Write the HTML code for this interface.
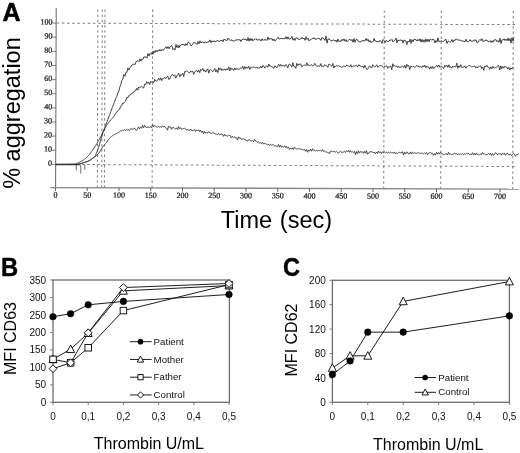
<!DOCTYPE html>
<html><head><meta charset="utf-8"><style>
html,body{margin:0;padding:0;background:#fff;width:520px;height:453px;overflow:hidden}
svg{display:block;will-change:transform}
text{font-family:"Liberation Sans",sans-serif;fill:#000}
.ser{font-family:"Liberation Serif",serif;font-size:8px;fill:#111;stroke:#111;stroke-width:0.22px}
.big{font-weight:bold;font-size:25px;stroke:#000;stroke-width:0.45px}
.lab{font-size:23.5px}
.lab2{font-size:16px}
.tick{font-size:10px;fill:#111}
.leg{font-size:9.7px;fill:#111}
</style></head><body>
<svg width="520" height="453" viewBox="0 0 520 453">
<rect width="520" height="453" fill="#fff"/>
<g transform="rotate(0.19 56 100)">
<line x1="56.5" y1="23.10" x2="517" y2="23.10" stroke="#7c7c7c" stroke-width="1" stroke-dasharray="2.4 2.78"/><line x1="56.5" y1="164.40" x2="517" y2="165.00" stroke="#7c7c7c" stroke-width="1" stroke-dasharray="2.4 2.78"/><line x1="97.6" y1="9.3" x2="97.6" y2="188.6" stroke="#7c7c7c" stroke-width="1" stroke-dasharray="2.4 2.78"/><line x1="102.0" y1="9.3" x2="102.0" y2="188.6" stroke="#7c7c7c" stroke-width="1" stroke-dasharray="2.4 2.78"/><line x1="104.7" y1="9.3" x2="104.7" y2="188.6" stroke="#7c7c7c" stroke-width="1" stroke-dasharray="2.4 2.78"/><line x1="152.4" y1="9.3" x2="152.4" y2="188.6" stroke="#7c7c7c" stroke-width="1" stroke-dasharray="2.4 2.78"/><line x1="384.0" y1="9.3" x2="384.0" y2="188.6" stroke="#7c7c7c" stroke-width="1" stroke-dasharray="2.4 2.78"/><line x1="441.0" y1="9.3" x2="441.0" y2="188.6" stroke="#7c7c7c" stroke-width="1" stroke-dasharray="2.4 2.78"/><line x1="513.0" y1="9.3" x2="513.0" y2="188.6" stroke="#7c7c7c" stroke-width="1" stroke-dasharray="2.4 2.78"/><line x1="55.9" y1="8" x2="55.9" y2="188" stroke="#666" stroke-width="1"/><line x1="50.5" y1="187.6" x2="519" y2="187.6" stroke="#888" stroke-width="1.3"/><line x1="51.5" y1="164.40" x2="56" y2="164.40" stroke="#666" stroke-width="0.8"/><line x1="51.5" y1="150.27" x2="56" y2="150.27" stroke="#666" stroke-width="0.8"/><line x1="51.5" y1="136.14" x2="56" y2="136.14" stroke="#666" stroke-width="0.8"/><line x1="51.5" y1="122.01" x2="56" y2="122.01" stroke="#666" stroke-width="0.8"/><line x1="51.5" y1="107.88" x2="56" y2="107.88" stroke="#666" stroke-width="0.8"/><line x1="51.5" y1="93.75" x2="56" y2="93.75" stroke="#666" stroke-width="0.8"/><line x1="51.5" y1="79.62" x2="56" y2="79.62" stroke="#666" stroke-width="0.8"/><line x1="51.5" y1="65.49" x2="56" y2="65.49" stroke="#666" stroke-width="0.8"/><line x1="51.5" y1="51.36" x2="56" y2="51.36" stroke="#666" stroke-width="0.8"/><line x1="51.5" y1="37.23" x2="56" y2="37.23" stroke="#666" stroke-width="0.8"/><line x1="51.5" y1="23.10" x2="56" y2="23.10" stroke="#666" stroke-width="0.8"/><line x1="55.80" y1="187.6" x2="55.80" y2="191" stroke="#555" stroke-width="0.9"/><line x1="87.55" y1="187.6" x2="87.55" y2="191" stroke="#555" stroke-width="0.9"/><line x1="119.30" y1="187.6" x2="119.30" y2="191" stroke="#555" stroke-width="0.9"/><line x1="151.05" y1="187.6" x2="151.05" y2="191" stroke="#555" stroke-width="0.9"/><line x1="182.80" y1="187.6" x2="182.80" y2="191" stroke="#555" stroke-width="0.9"/><line x1="214.55" y1="187.6" x2="214.55" y2="191" stroke="#555" stroke-width="0.9"/><line x1="246.30" y1="187.6" x2="246.30" y2="191" stroke="#555" stroke-width="0.9"/><line x1="278.05" y1="187.6" x2="278.05" y2="191" stroke="#555" stroke-width="0.9"/><line x1="309.80" y1="187.6" x2="309.80" y2="191" stroke="#555" stroke-width="0.9"/><line x1="341.55" y1="187.6" x2="341.55" y2="191" stroke="#555" stroke-width="0.9"/><line x1="373.30" y1="187.6" x2="373.30" y2="191" stroke="#555" stroke-width="0.9"/><line x1="405.05" y1="187.6" x2="405.05" y2="191" stroke="#555" stroke-width="0.9"/><line x1="436.80" y1="187.6" x2="436.80" y2="191" stroke="#555" stroke-width="0.9"/><line x1="468.55" y1="187.6" x2="468.55" y2="191" stroke="#555" stroke-width="0.9"/><line x1="500.30" y1="187.6" x2="500.30" y2="191" stroke="#555" stroke-width="0.9"/>
<path d="M76.5 164.6 V170.2 M80.9 164.6 V173.4 M85 164.6 V169.6" stroke="#8a8a8a" stroke-width="1.25" fill="none"/><path d="M56 164.5 L80 164.3" stroke="#333" stroke-width="1.5" fill="none"/>
<polyline points="78.66,164.04 79.66,163.92 80.66,163.66 81.66,163.32 82.66,162.96 83.66,162.64 84.66,162.34 85.66,162.04 86.66,161.71 87.66,161.35 88.66,160.94 89.66,160.45 90.66,159.81 91.66,159.09 92.66,158.35 93.66,157.66 94.66,156.97 95.66,156.22 96.66,155.42 97.66,154.52 98.66,153.42 99.66,151.97 100.66,150.32 101.66,148.69 102.66,147.24 103.66,145.91 104.66,144.63 105.66,143.34 106.66,142.02 107.66,140.60 108.66,139.23 109.66,138.08 110.66,137.12 111.66,136.28 112.66,135.54 113.66,134.90 114.66,134.33 115.66,133.82 116.66,133.32 117.66,132.81 118.66,132.20 119.66,131.58 120.66,130.73 121.66,130.59 122.66,129.99 123.66,130.17 124.66,129.33 125.66,130.39 126.66,128.99 127.66,129.65 128.66,129.51 129.66,130.40 130.66,128.54 131.66,128.80 132.66,128.87 133.66,128.66 134.66,127.84 135.66,129.60 136.66,130.15 137.66,128.76 138.66,126.62 139.66,128.47 140.66,127.01 141.66,127.90 142.66,125.13 143.66,127.51 144.66,125.06 145.66,126.82 146.66,127.09 147.66,126.91 148.66,126.86 149.66,127.23 150.66,126.37 151.66,127.36 152.66,124.38 153.66,126.51 154.66,125.19 155.66,125.72 156.66,126.74 157.66,126.53 158.66,126.15 159.66,126.85 160.66,126.37 161.66,127.03 162.66,125.47 163.66,126.68 164.66,126.17 165.66,127.32 166.66,127.90 167.66,129.80 168.66,125.97 169.66,126.65 170.66,126.63 171.66,128.85 172.66,127.26 173.66,127.24 174.66,127.89 175.66,128.73 176.66,127.39 177.66,128.93 178.66,126.23 179.66,128.28 180.66,127.35 181.66,129.22 182.66,128.15 183.66,128.22 184.66,127.85 185.66,128.48 186.66,129.57 187.66,129.34 188.66,129.70 189.66,129.95 190.66,128.51 191.66,130.08 192.66,130.17 193.66,130.15 194.66,128.91 195.66,130.91 196.66,129.49 197.66,130.50 198.66,129.24 199.66,131.28 200.66,129.70 201.66,131.95 202.66,130.46 203.66,132.99 204.66,131.10 205.66,132.64 206.66,132.06 207.66,132.54 208.66,131.20 209.66,132.04 210.66,132.48 211.66,133.06 212.66,131.90 213.66,132.23 214.66,133.40 215.66,133.50 216.66,133.64 217.66,134.22 218.66,132.80 219.66,134.21 220.66,133.83 221.66,133.71 222.66,133.76 223.66,135.80 224.66,133.66 225.66,135.39 226.66,134.98 227.66,135.63 228.66,134.75 229.66,134.96 230.66,135.35 231.66,137.41 232.66,135.86 233.66,136.84 234.66,136.06 235.66,137.45 236.66,137.16 237.66,139.40 238.66,136.20 239.66,137.60 240.66,137.25 241.66,139.15 242.66,138.40 243.66,138.09 244.66,138.36 245.66,139.67 246.66,139.34 247.66,140.58 248.66,139.14 249.66,139.23 250.66,139.92 251.66,140.13 252.66,140.06 253.66,141.12 254.66,138.68 255.66,140.46 256.66,140.66 257.66,141.77 258.66,141.26 259.66,142.23 260.66,142.22 261.66,143.04 262.66,141.51 263.66,143.23 264.66,142.96 265.66,142.77 266.66,143.30 267.66,144.31 268.66,143.53 269.66,144.95 270.66,143.65 271.66,144.54 272.66,143.99 273.66,144.30 274.66,145.24 275.66,144.96 276.66,145.70 277.66,145.81 278.66,143.71 279.66,146.42 280.66,144.35 281.66,146.48 282.66,145.83 283.66,146.02 284.66,145.27 285.66,147.04 286.66,145.43 287.66,147.38 288.66,146.53 289.66,148.68 290.66,147.24 291.66,148.50 292.66,147.06 293.66,148.78 294.66,146.24 295.66,147.52 296.66,148.06 297.66,148.19 298.66,148.02 299.66,147.66 300.66,148.33 301.66,148.42 302.66,148.53 303.66,149.08 304.66,148.48 305.66,150.36 306.66,148.69 307.66,151.46 308.66,149.08 309.66,150.26 310.66,148.49 311.66,150.34 312.66,147.84 313.66,149.45 314.66,149.58 315.66,150.40 316.66,149.36 317.66,149.89 318.66,149.72 319.66,149.81 320.66,149.61 321.66,150.32 322.66,148.69 323.66,150.67 324.66,150.11 325.66,151.07 326.66,150.96 327.66,151.48 328.66,151.79 329.66,152.98 330.66,150.24 331.66,150.31 332.66,150.81 333.66,150.57 334.66,150.73 335.66,151.11 336.66,150.27 337.66,151.17 338.66,152.37 339.66,151.25 340.66,150.20 341.66,151.16 342.66,151.57 343.66,151.02 344.66,150.49 345.66,151.59 346.66,150.09 347.66,150.72 348.66,149.07 349.66,151.30 350.66,149.73 351.66,151.26 352.66,150.81 353.66,151.31 354.66,150.41 355.66,153.60 356.66,150.56 357.66,152.80 358.66,149.73 359.66,152.11 360.66,150.58 361.66,151.01 362.66,150.82 363.66,152.21 364.66,150.17 365.66,152.16 366.66,149.67 367.66,153.21 368.66,151.92 369.66,151.71 370.66,150.05 371.66,151.04 372.66,151.07 373.66,151.48 374.66,151.23 375.66,152.77 376.66,150.97 377.66,152.40 378.66,149.94 379.66,151.65 380.66,150.82 381.66,152.48 382.66,150.76 383.66,151.68 384.66,150.93 385.66,151.86 386.66,151.11 387.66,151.86 388.66,151.26 389.66,151.65 390.66,151.00 391.66,151.75 392.66,151.48 393.66,152.17 394.66,150.79 395.66,152.81 396.66,151.84 397.66,152.34 398.66,151.17 399.66,151.19 400.66,151.63 401.66,151.52 402.66,150.50 403.66,153.76 404.66,151.14 405.66,152.98 406.66,150.73 407.66,151.12 408.66,152.90 409.66,152.39 410.66,150.74 411.66,152.97 412.66,151.03 413.66,151.96 414.66,151.90 415.66,151.86 416.66,152.04 417.66,151.93 418.66,151.48 419.66,152.00 420.66,152.16 421.66,152.08 422.66,151.79 423.66,152.61 424.66,151.69 425.66,152.61 426.66,151.31 427.66,153.44 428.66,152.00 429.66,151.48 430.66,151.05 431.66,152.48 432.66,152.11 433.66,154.13 434.66,152.42 435.66,153.85 436.66,151.12 437.66,152.86 438.66,151.21 439.66,152.90 440.66,150.96 441.66,152.52 442.66,152.41 443.66,153.65 444.66,153.08 445.66,152.69 446.66,152.29 447.66,153.67 448.66,151.06 449.66,153.21 450.66,152.37 451.66,153.27 452.66,153.01 453.66,152.91 454.66,151.81 455.66,152.44 456.66,152.22 457.66,153.43 458.66,152.42 459.66,153.21 460.66,152.78 461.66,152.93 462.66,152.54 463.66,153.36 464.66,152.58 465.66,152.93 466.66,151.82 467.66,152.46 468.66,152.02 469.66,152.94 470.66,153.31 471.66,153.14 472.66,151.31 473.66,153.42 474.66,151.84 475.66,153.68 476.66,151.56 477.66,153.03 478.66,153.34 479.66,153.39 480.66,152.63 481.66,153.03 482.66,151.03 483.66,152.64 484.66,152.38 485.66,153.38 486.66,152.93 487.66,152.97 488.66,151.92 489.66,153.09 490.66,151.85 491.66,154.11 492.66,152.12 493.66,153.79 494.66,153.03 495.66,151.20 496.66,151.91 497.66,153.38 498.66,152.21 499.66,152.54 500.66,152.14 501.66,153.68 502.66,151.63 503.66,152.40 504.66,151.66 505.66,153.85 506.66,152.12 507.66,151.72 508.66,153.10 509.66,153.27 510.66,152.55 511.66,154.09 512.66,152.81 513.66,151.89 514.66,152.62 515.66,154.73 516.66,153.02 517.66,153.04 518.66,152.42" fill="none" stroke="#3a3a3a" stroke-width="0.95"/>
<polyline points="78.66,164.04 79.66,163.92 80.66,163.66 81.66,163.32 82.66,162.96 83.66,162.64 84.66,162.35 85.66,162.04 86.66,161.72 87.66,161.36 88.66,160.95 89.66,160.45 90.66,159.79 91.66,159.04 92.66,158.25 93.66,157.48 94.66,156.64 95.66,155.21 96.66,153.02 97.66,150.50 98.66,147.51 99.66,144.17 100.66,140.49 101.66,136.93 102.66,133.61 103.66,130.91 104.66,128.84 105.66,127.06 106.66,125.38 107.66,123.81 108.66,122.34 109.66,121.00 110.66,119.83 111.66,118.84 112.66,117.86 113.66,116.75 114.66,115.22 115.66,113.71 116.66,111.69 117.66,111.22 118.66,109.56 119.66,109.15 120.66,106.13 121.66,105.65 122.66,102.86 123.66,103.18 124.66,101.86 125.66,100.88 126.66,97.28 127.66,97.82 128.66,95.48 129.66,95.43 130.66,93.68 131.66,93.77 132.66,92.17 133.66,92.16 134.66,90.40 135.66,90.42 136.66,87.97 137.66,89.92 138.66,86.74 139.66,87.87 140.66,86.49 141.66,86.34 142.66,87.11 143.66,87.78 144.66,83.69 145.66,84.26 146.66,81.28 147.66,83.10 148.66,81.74 149.66,84.22 150.66,80.83 151.66,81.90 152.66,81.14 153.66,82.69 154.66,79.09 155.66,80.69 156.66,80.92 157.66,79.41 158.66,77.79 159.66,79.89 160.66,77.55 161.66,80.20 162.66,77.91 163.66,78.39 164.66,76.97 165.66,78.24 166.66,76.52 167.66,75.80 168.66,79.11 169.66,78.61 170.66,75.91 171.66,74.40 172.66,74.25 173.66,75.46 174.66,74.49 175.66,77.73 176.66,75.62 177.66,74.24 178.66,72.69 179.66,76.53 180.66,74.23 181.66,74.63 182.66,72.75 183.66,76.18 184.66,70.95 185.66,71.41 186.66,70.15 187.66,71.26 188.66,72.16 189.66,72.17 190.66,70.55 191.66,71.36 192.66,70.72 193.66,73.90 194.66,71.25 195.66,70.84 196.66,69.78 197.66,71.69 198.66,69.64 199.66,72.21 200.66,68.89 201.66,69.85 202.66,67.94 203.66,70.92 204.66,69.39 205.66,71.63 206.66,69.71 207.66,68.27 208.66,72.67 209.66,69.46 210.66,69.07 211.66,70.09 212.66,71.26 213.66,69.80 214.66,67.85 215.66,71.44 216.66,69.23 217.66,72.12 218.66,67.28 219.66,69.32 220.66,67.67 221.66,70.17 222.66,68.65 223.66,69.58 224.66,68.30 225.66,69.74 226.66,68.10 227.66,69.38 228.66,66.31 229.66,70.34 230.66,67.20 231.66,69.00 232.66,68.28 233.66,69.95 234.66,67.34 235.66,69.35 236.66,67.76 237.66,68.46 238.66,68.53 239.66,68.34 240.66,66.97 241.66,67.66 242.66,65.66 243.66,68.81 244.66,65.85 245.66,68.03 246.66,66.32 247.66,67.69 248.66,65.76 249.66,68.97 250.66,66.56 251.66,67.34 252.66,66.16 253.66,66.49 254.66,67.02 255.66,67.18 256.66,66.75 257.66,67.22 258.66,67.49 259.66,67.32 260.66,65.39 261.66,67.31 262.66,64.74 263.66,65.41 264.66,67.42 265.66,65.77 266.66,65.07 267.66,66.53 268.66,63.25 269.66,65.55 270.66,65.21 271.66,66.29 272.66,66.24 273.66,67.62 274.66,65.20 275.66,65.69 276.66,67.05 277.66,65.01 278.66,63.52 279.66,65.68 280.66,63.64 281.66,65.53 282.66,64.68 283.66,64.44 284.66,65.82 285.66,63.78 286.66,64.62 287.66,67.14 288.66,63.71 289.66,63.30 290.66,64.43 291.66,66.37 292.66,61.94 293.66,65.64 294.66,65.66 295.66,67.54 296.66,62.49 297.66,64.84 298.66,63.26 299.66,63.69 300.66,62.98 301.66,65.92 302.66,65.21 303.66,64.70 304.66,64.20 305.66,65.10 306.66,61.94 307.66,64.67 308.66,64.01 309.66,64.99 310.66,63.88 311.66,64.18 312.66,65.33 313.66,64.50 314.66,62.45 315.66,64.55 316.66,65.16 317.66,65.34 318.66,65.03 319.66,65.41 320.66,62.77 321.66,65.91 322.66,65.14 323.66,65.61 324.66,63.62 325.66,64.71 326.66,64.80 327.66,66.48 328.66,63.19 329.66,63.73 330.66,64.47 331.66,65.43 332.66,62.51 333.66,67.15 334.66,65.09 335.66,65.73 336.66,64.36 337.66,65.53 338.66,64.52 339.66,65.50 340.66,65.54 341.66,66.71 342.66,65.95 343.66,64.79 344.66,65.42 345.66,65.62 346.66,63.96 347.66,64.91 348.66,65.05 349.66,65.96 350.66,63.71 351.66,66.21 352.66,65.38 353.66,64.88 354.66,65.08 355.66,64.74 356.66,64.38 357.66,65.95 358.66,63.63 359.66,64.84 360.66,65.03 361.66,66.14 362.66,65.01 363.66,67.23 364.66,64.25 365.66,66.38 366.66,68.25 367.66,68.22 368.66,66.19 369.66,64.80 370.66,66.58 371.66,66.87 372.66,63.71 373.66,65.06 374.66,66.14 375.66,65.15 376.66,63.72 377.66,66.36 378.66,65.22 379.66,64.44 380.66,64.65 381.66,64.65 382.66,65.32 383.66,66.32 384.66,64.83 385.66,65.14 386.66,64.70 387.66,67.32 388.66,65.55 389.66,65.79 390.66,65.08 391.66,68.65 392.66,62.61 393.66,65.14 394.66,64.41 395.66,65.55 396.66,64.95 397.66,66.44 398.66,65.03 399.66,66.63 400.66,65.80 401.66,65.65 402.66,64.87 403.66,66.52 404.66,63.96 405.66,67.07 406.66,63.13 407.66,65.08 408.66,64.22 409.66,68.47 410.66,65.05 411.66,65.55 412.66,65.59 413.66,65.17 414.66,66.41 415.66,65.32 416.66,63.94 417.66,65.36 418.66,65.06 419.66,65.78 420.66,65.32 421.66,66.54 422.66,64.39 423.66,65.76 424.66,63.86 425.66,66.64 426.66,64.73 427.66,65.84 428.66,65.66 429.66,67.84 430.66,65.34 431.66,67.34 432.66,65.20 433.66,67.40 434.66,66.04 435.66,65.36 436.66,64.04 437.66,65.85 438.66,63.74 439.66,65.91 440.66,65.33 441.66,65.15 442.66,66.29 443.66,67.15 444.66,64.03 445.66,65.37 446.66,63.89 447.66,66.20 448.66,63.48 449.66,66.41 450.66,65.41 451.66,66.82 452.66,64.63 453.66,65.76 454.66,64.84 455.66,65.89 456.66,61.84 457.66,67.02 458.66,64.46 459.66,65.90 460.66,63.40 461.66,66.28 462.66,66.01 463.66,65.80 464.66,64.47 465.66,67.02 466.66,65.23 467.66,64.96 468.66,64.18 469.66,64.34 470.66,64.72 471.66,65.71 472.66,65.14 473.66,65.16 474.66,64.51 475.66,66.76 476.66,65.32 477.66,66.39 478.66,65.15 479.66,64.79 480.66,64.46 481.66,67.11 482.66,65.71 483.66,68.92 484.66,64.57 485.66,65.54 486.66,63.75 487.66,65.57 488.66,65.79 489.66,67.87 490.66,65.38 491.66,67.34 492.66,64.86 493.66,66.58 494.66,66.52 495.66,66.08 496.66,65.35 497.66,64.43 498.66,64.18 499.66,68.49 500.66,64.36 501.66,67.27 502.66,64.98 503.66,66.70 504.66,64.79 505.66,65.50 506.66,65.51 507.66,67.64 508.66,65.89 509.66,68.51 510.66,66.44 511.66,67.21 512.66,65.66 513.66,66.74" fill="none" stroke="#3a3a3a" stroke-width="0.95"/>
<polyline points="55.80,164.40 56.80,164.40 57.80,164.40 58.80,164.40 59.80,164.39 60.80,164.39 61.80,164.38 62.80,164.37 63.80,164.36 64.80,164.34 65.80,164.33 66.80,164.31 67.80,164.29 68.80,164.26 69.80,164.24 70.80,164.21 71.80,164.18 72.80,164.14 73.80,164.10 74.80,164.06 75.80,163.84 76.80,163.39 77.80,162.94 78.80,162.52 79.80,162.07 80.80,161.60 81.80,161.09 82.80,160.52 83.80,159.88 84.80,159.13 85.80,158.28 86.80,157.34 87.80,156.34 88.80,155.27 89.80,154.10 90.80,152.75 91.80,151.31 92.80,149.87 93.80,148.42 94.80,146.93 95.80,145.38 96.80,143.76 97.80,142.04 98.80,140.30 99.80,138.61 100.80,136.89 101.80,134.91 102.80,132.66 103.80,130.25 104.80,127.67 105.80,124.94 106.80,122.26 107.80,119.58 108.80,116.89 109.80,114.19 110.80,111.48 111.80,108.73 112.80,106.13 113.80,103.25 114.80,100.98 115.80,97.84 116.80,96.31 117.80,92.88 118.80,90.97 119.80,86.83 120.80,84.22 121.80,80.05 122.80,78.79 123.80,74.23 124.80,75.96 125.80,72.07 126.80,72.14 127.80,67.80 128.80,69.81 129.80,67.34 130.80,66.39 131.80,64.53 132.80,64.50 133.80,63.61 134.80,64.50 135.80,61.67 136.80,60.94 137.80,60.27 138.80,61.44 139.80,58.48 140.80,60.90 141.80,58.70 142.80,58.99 143.80,56.49 144.80,57.07 145.80,56.49 146.80,57.82 147.80,53.34 148.80,55.77 149.80,53.15 150.80,54.18 151.80,52.01 152.80,54.13 153.80,50.55 154.80,52.38 155.80,49.92 156.80,51.58 157.80,49.92 158.80,50.74 159.80,49.08 160.80,50.67 161.80,49.08 162.80,49.98 163.80,49.24 164.80,47.68 165.80,46.41 166.80,48.20 167.80,46.21 168.80,48.41 169.80,46.56 170.80,45.73 171.80,45.33 172.80,49.28 173.80,48.13 174.80,49.70 175.80,44.05 176.80,47.15 177.80,44.85 178.80,47.53 179.80,44.85 180.80,45.13 181.80,43.61 182.80,44.65 183.80,43.78 184.80,45.33 185.80,43.25 186.80,44.91 187.80,42.01 188.80,41.76 189.80,43.40 190.80,45.33 191.80,44.81 192.80,42.83 193.80,41.90 194.80,42.59 195.80,42.74 196.80,43.93 197.80,41.09 198.80,43.37 199.80,40.28 200.80,42.56 201.80,41.25 202.80,41.69 203.80,42.81 204.80,41.32 205.80,41.62 206.80,42.33 207.80,41.14 208.80,41.47 209.80,39.37 210.80,42.24 211.80,40.18 212.80,41.47 213.80,40.24 214.80,41.07 215.80,41.00 216.80,40.23 217.80,39.86 218.80,41.29 219.80,39.97 220.80,40.51 221.80,39.45 222.80,41.29 223.80,38.47 224.80,39.61 225.80,39.22 226.80,40.16 227.80,37.40 228.80,39.05 229.80,39.41 230.80,39.95 231.80,39.19 232.80,40.53 233.80,40.61 234.80,39.82 235.80,39.25 236.80,39.45 237.80,38.91 238.80,39.73 239.80,38.83 240.80,41.02 241.80,38.85 242.80,38.59 243.80,38.50 244.80,38.99 245.80,38.28 246.80,40.32 247.80,36.92 248.80,40.51 249.80,37.65 250.80,40.09 251.80,37.88 252.80,40.30 253.80,38.78 254.80,38.91 255.80,37.84 256.80,39.45 257.80,39.17 258.80,39.17 259.80,38.82 260.80,40.40 261.80,38.11 262.80,39.83 263.80,38.80 264.80,39.60 265.80,38.66 266.80,39.83 267.80,36.30 268.80,38.97 269.80,37.45 270.80,38.65 271.80,37.75 272.80,39.99 273.80,38.32 274.80,40.36 275.80,39.07 276.80,37.93 277.80,36.48 278.80,38.32 279.80,37.97 280.80,37.83 281.80,37.75 282.80,38.03 283.80,37.64 284.80,38.11 285.80,35.80 286.80,38.40 287.80,36.01 288.80,38.49 289.80,37.99 290.80,37.69 291.80,35.55 292.80,39.37 293.80,37.66 294.80,39.68 295.80,36.93 296.80,37.43 297.80,37.40 298.80,39.12 299.80,37.98 300.80,38.10 301.80,36.46 302.80,38.18 303.80,37.19 304.80,39.53 305.80,35.80 306.80,38.68 307.80,37.28 308.80,40.13 309.80,38.85 310.80,38.94 311.80,37.65 312.80,37.68 313.80,36.76 314.80,38.45 315.80,37.92 316.80,38.30 317.80,37.29 318.80,37.89 319.80,37.98 320.80,39.57 321.80,36.36 322.80,37.75 323.80,37.84 324.80,39.59 325.80,35.05 326.80,42.32 327.80,37.96 328.80,38.11 329.80,38.52 330.80,39.93 331.80,40.10 332.80,38.81 333.80,39.10 334.80,40.45 335.80,39.15 336.80,41.28 337.80,38.00 338.80,40.83 339.80,39.74 340.80,40.55 341.80,38.25 342.80,39.67 343.80,37.89 344.80,40.36 345.80,38.57 346.80,40.93 347.80,39.57 348.80,38.90 349.80,38.22 350.80,39.70 351.80,38.42 352.80,41.28 353.80,37.57 354.80,41.39 355.80,38.50 356.80,38.30 357.80,40.05 358.80,40.88 359.80,40.78 360.80,40.84 361.80,39.38 362.80,40.01 363.80,39.75 364.80,39.81 365.80,37.37 366.80,39.76 367.80,38.07 368.80,40.80 369.80,39.37 370.80,41.52 371.80,40.92 372.80,40.68 373.80,37.32 374.80,39.98 375.80,39.81 376.80,41.09 377.80,40.42 378.80,40.84 379.80,39.22 380.80,40.44 381.80,42.28 382.80,38.40 383.80,39.47 384.80,41.53 385.80,39.25 386.80,39.90 387.80,40.56 388.80,40.18 389.80,38.60 390.80,39.39 391.80,38.30 392.80,40.89 393.80,39.78 394.80,39.02 395.80,36.94 396.80,41.79 397.80,38.67 398.80,39.78 399.80,38.62 400.80,39.48 401.80,38.86 402.80,42.01 403.80,38.71 404.80,39.87 405.80,39.80 406.80,43.52 407.80,39.90 408.80,40.92 409.80,37.92 410.80,42.30 411.80,38.42 412.80,40.60 413.80,38.09 414.80,38.33 415.80,38.52 416.80,39.89 417.80,38.02 418.80,39.77 419.80,37.55 420.80,40.85 421.80,38.12 422.80,40.96 423.80,38.64 424.80,41.04 425.80,37.63 426.80,40.43 427.80,37.91 428.80,40.53 429.80,37.99 430.80,38.69 431.80,38.63 432.80,37.96 433.80,38.64 434.80,41.70 435.80,39.17 436.80,40.83 437.80,36.49 438.80,40.59 439.80,39.69 440.80,40.19 441.80,39.48 442.80,40.63 443.80,39.27 444.80,38.72 445.80,37.88 446.80,42.30 447.80,39.89 448.80,39.94 449.80,40.95 450.80,40.28 451.80,38.22 452.80,40.94 453.80,38.66 454.80,39.26 455.80,37.41 456.80,38.30 457.80,38.68 458.80,38.89 459.80,38.70 460.80,39.12 461.80,39.85 462.80,39.68 463.80,39.81 464.80,40.68 465.80,37.80 466.80,40.10 467.80,40.26 468.80,39.99 469.80,38.39 470.80,39.91 471.80,39.50 472.80,40.05 473.80,38.47 474.80,39.17 475.80,38.35 476.80,41.43 477.80,41.17 478.80,39.22 479.80,38.04 480.80,39.22 481.80,37.20 482.80,40.20 483.80,39.70 484.80,39.17 485.80,38.76 486.80,38.60 487.80,40.15 488.80,40.27 489.80,39.20 490.80,41.09 491.80,39.25 492.80,40.78 493.80,38.57 494.80,38.49 495.80,38.27 496.80,40.35 497.80,39.12 498.80,40.89 499.80,36.79 500.80,42.03 501.80,38.32 502.80,38.43 503.80,37.24 504.80,39.06 505.80,37.52 506.80,39.26 507.80,36.75 508.80,39.44 509.80,36.90 510.80,41.69 511.80,36.07 512.80,39.81 513.80,36.21" fill="none" stroke="#3a3a3a" stroke-width="0.95"/>
<text x="52.2" y="165.80" text-anchor="end" class="ser">0</text><text x="52.2" y="151.67" text-anchor="end" class="ser">10</text><text x="52.2" y="137.54" text-anchor="end" class="ser">20</text><text x="52.2" y="123.41" text-anchor="end" class="ser">30</text><text x="52.2" y="109.28" text-anchor="end" class="ser">40</text><text x="52.2" y="95.15" text-anchor="end" class="ser">50</text><text x="52.2" y="81.02" text-anchor="end" class="ser">60</text><text x="52.2" y="66.89" text-anchor="end" class="ser">70</text><text x="52.2" y="52.76" text-anchor="end" class="ser">80</text><text x="52.2" y="38.63" text-anchor="end" class="ser">90</text><text x="52.2" y="24.50" text-anchor="end" class="ser">100</text><text x="55.80" y="197.6" text-anchor="middle" class="ser">0</text><text x="87.55" y="197.6" text-anchor="middle" class="ser">50</text><text x="119.30" y="197.6" text-anchor="middle" class="ser">100</text><text x="151.05" y="197.6" text-anchor="middle" class="ser">150</text><text x="182.80" y="197.6" text-anchor="middle" class="ser">200</text><text x="214.55" y="197.6" text-anchor="middle" class="ser">250</text><text x="246.30" y="197.6" text-anchor="middle" class="ser">300</text><text x="278.05" y="197.6" text-anchor="middle" class="ser">350</text><text x="309.80" y="197.6" text-anchor="middle" class="ser">400</text><text x="341.55" y="197.6" text-anchor="middle" class="ser">450</text><text x="373.30" y="197.6" text-anchor="middle" class="ser">500</text><text x="405.05" y="197.6" text-anchor="middle" class="ser">550</text><text x="436.80" y="197.6" text-anchor="middle" class="ser">600</text><text x="468.55" y="197.6" text-anchor="middle" class="ser">650</text><text x="500.30" y="197.6" text-anchor="middle" class="ser">700</text>
</g>
<text x="2.6" y="21" class="big">A</text>
<text transform="translate(1.0,276.2) scale(0.95,1)" class="big">B</text>
<text transform="translate(282.9,276.2) scale(0.94,1)" class="big">C</text>
<text transform="translate(20,188.8) rotate(-90)" class="lab">% aggregation</text>
<text x="276.4" y="227.6" text-anchor="middle" class="lab" word-spacing="1.2">Time (sec)</text>
<rect x="53.00" y="280.00" width="176.40" height="122.30" fill="none" stroke="#6e6e6e" stroke-width="1.3"/><line x1="50.20" y1="402.30" x2="53.00" y2="402.30" stroke="#7a7a7a" stroke-width="1"/><line x1="50.20" y1="384.83" x2="53.00" y2="384.83" stroke="#7a7a7a" stroke-width="1"/><line x1="50.20" y1="367.36" x2="53.00" y2="367.36" stroke="#7a7a7a" stroke-width="1"/><line x1="50.20" y1="349.89" x2="53.00" y2="349.89" stroke="#7a7a7a" stroke-width="1"/><line x1="50.20" y1="332.41" x2="53.00" y2="332.41" stroke="#7a7a7a" stroke-width="1"/><line x1="50.20" y1="314.94" x2="53.00" y2="314.94" stroke="#7a7a7a" stroke-width="1"/><line x1="50.20" y1="297.47" x2="53.00" y2="297.47" stroke="#7a7a7a" stroke-width="1"/><line x1="50.20" y1="280.00" x2="53.00" y2="280.00" stroke="#7a7a7a" stroke-width="1"/><line x1="53.00" y1="402.30" x2="53.00" y2="405.10" stroke="#7a7a7a" stroke-width="1"/><line x1="88.20" y1="402.30" x2="88.20" y2="405.10" stroke="#7a7a7a" stroke-width="1"/><line x1="123.40" y1="402.30" x2="123.40" y2="405.10" stroke="#7a7a7a" stroke-width="1"/><line x1="158.60" y1="402.30" x2="158.60" y2="405.10" stroke="#7a7a7a" stroke-width="1"/><line x1="193.80" y1="402.30" x2="193.80" y2="405.10" stroke="#7a7a7a" stroke-width="1"/><line x1="229.00" y1="402.30" x2="229.00" y2="405.10" stroke="#7a7a7a" stroke-width="1"/><polyline points="53.00,359.32 70.60,362.81 88.20,347.79 123.40,310.58 229.00,284.61" fill="none" stroke="#111" stroke-width="0.95"/><polyline points="53.00,359.32 70.60,349.19 88.20,333.11 123.40,290.83 229.00,285.59" fill="none" stroke="#111" stroke-width="0.95"/><polyline points="53.00,368.68 70.60,362.81 88.20,332.83 123.40,287.55 229.00,283.49" fill="none" stroke="#111" stroke-width="0.95"/><polyline points="53.00,316.69 70.60,313.72 88.20,304.81 123.40,301.42 229.00,294.50" fill="none" stroke="#111" stroke-width="0.95"/><path d="M53.00 355.12 L57.00 362.68 L49.00 362.68 Z" fill="#fff" stroke="#000" stroke-width="0.9" stroke-linejoin="miter"/><path d="M70.60 344.99 L74.60 352.55 L66.60 352.55 Z" fill="#fff" stroke="#000" stroke-width="0.9" stroke-linejoin="miter"/><path d="M88.20 328.91 L92.20 336.47 L84.20 336.47 Z" fill="#fff" stroke="#000" stroke-width="0.9" stroke-linejoin="miter"/><path d="M123.40 286.63 L127.40 294.19 L119.40 294.19 Z" fill="#fff" stroke="#000" stroke-width="0.9" stroke-linejoin="miter"/><path d="M229.00 281.39 L233.00 288.95 L225.00 288.95 Z" fill="#fff" stroke="#000" stroke-width="0.9" stroke-linejoin="miter"/><rect x="49.75" y="356.07" width="6.5" height="6.5" fill="#fff" stroke="#000" stroke-width="0.9"/><rect x="67.35" y="359.56" width="6.5" height="6.5" fill="#fff" stroke="#000" stroke-width="0.9"/><rect x="84.95" y="344.54" width="6.5" height="6.5" fill="#fff" stroke="#000" stroke-width="0.9"/><rect x="120.15" y="307.33" width="6.5" height="6.5" fill="#fff" stroke="#000" stroke-width="0.9"/><rect x="225.75" y="281.36" width="6.5" height="6.5" fill="#fff" stroke="#000" stroke-width="0.9"/><path d="M53.00 364.78 L56.90 368.68 L53.00 372.58 L49.10 368.68 Z" fill="#fff" stroke="#000" stroke-width="0.9"/><path d="M70.60 358.91 L74.50 362.81 L70.60 366.71 L66.70 362.81 Z" fill="#fff" stroke="#000" stroke-width="0.9"/><path d="M88.20 328.93 L92.10 332.83 L88.20 336.73 L84.30 332.83 Z" fill="#fff" stroke="#000" stroke-width="0.9"/><path d="M123.40 283.65 L127.30 287.55 L123.40 291.45 L119.50 287.55 Z" fill="#fff" stroke="#000" stroke-width="0.9"/><path d="M229.00 279.59 L232.90 283.49 L229.00 287.39 L225.10 283.49 Z" fill="#fff" stroke="#000" stroke-width="0.9"/><circle cx="53.00" cy="316.69" r="3.3" fill="#000" stroke="#000" stroke-width="0.5"/><circle cx="70.60" cy="313.72" r="3.3" fill="#000" stroke="#000" stroke-width="0.5"/><circle cx="88.20" cy="304.81" r="3.3" fill="#000" stroke="#000" stroke-width="0.5"/><circle cx="123.40" cy="301.42" r="3.3" fill="#000" stroke="#000" stroke-width="0.5"/><circle cx="229.00" cy="294.50" r="3.3" fill="#000" stroke="#000" stroke-width="0.5"/><rect x="332.40" y="280.30" width="177.00" height="122.00" fill="none" stroke="#6e6e6e" stroke-width="1.3"/><line x1="329.60" y1="402.30" x2="332.40" y2="402.30" stroke="#7a7a7a" stroke-width="1"/><line x1="329.60" y1="377.90" x2="332.40" y2="377.90" stroke="#7a7a7a" stroke-width="1"/><line x1="329.60" y1="353.50" x2="332.40" y2="353.50" stroke="#7a7a7a" stroke-width="1"/><line x1="329.60" y1="329.10" x2="332.40" y2="329.10" stroke="#7a7a7a" stroke-width="1"/><line x1="329.60" y1="304.70" x2="332.40" y2="304.70" stroke="#7a7a7a" stroke-width="1"/><line x1="329.60" y1="280.30" x2="332.40" y2="280.30" stroke="#7a7a7a" stroke-width="1"/><line x1="332.40" y1="402.30" x2="332.40" y2="405.10" stroke="#7a7a7a" stroke-width="1"/><line x1="367.80" y1="402.30" x2="367.80" y2="405.10" stroke="#7a7a7a" stroke-width="1"/><line x1="403.20" y1="402.30" x2="403.20" y2="405.10" stroke="#7a7a7a" stroke-width="1"/><line x1="438.60" y1="402.30" x2="438.60" y2="405.10" stroke="#7a7a7a" stroke-width="1"/><line x1="474.00" y1="402.30" x2="474.00" y2="405.10" stroke="#7a7a7a" stroke-width="1"/><line x1="509.40" y1="402.30" x2="509.40" y2="405.10" stroke="#7a7a7a" stroke-width="1"/><polyline points="332.40,367.96 350.10,355.82 367.80,355.82 403.20,301.41 509.40,281.52" fill="none" stroke="#111" stroke-width="0.95"/><polyline points="332.40,374.61 350.10,360.94 367.80,332.15 403.20,332.15 509.40,315.86" fill="none" stroke="#111" stroke-width="0.95"/><path d="M332.40 363.76 L336.40 371.32 L328.40 371.32 Z" fill="#fff" stroke="#000" stroke-width="0.9" stroke-linejoin="miter"/><path d="M350.10 351.62 L354.10 359.18 L346.10 359.18 Z" fill="#fff" stroke="#000" stroke-width="0.9" stroke-linejoin="miter"/><path d="M367.80 351.62 L371.80 359.18 L363.80 359.18 Z" fill="#fff" stroke="#000" stroke-width="0.9" stroke-linejoin="miter"/><path d="M403.20 297.21 L407.20 304.77 L399.20 304.77 Z" fill="#fff" stroke="#000" stroke-width="0.9" stroke-linejoin="miter"/><path d="M509.40 277.32 L513.40 284.88 L505.40 284.88 Z" fill="#fff" stroke="#000" stroke-width="0.9" stroke-linejoin="miter"/><circle cx="332.40" cy="374.61" r="3.3" fill="#000" stroke="#000" stroke-width="0.5"/><circle cx="350.10" cy="360.94" r="3.3" fill="#000" stroke="#000" stroke-width="0.5"/><circle cx="367.80" cy="332.15" r="3.3" fill="#000" stroke="#000" stroke-width="0.5"/><circle cx="403.20" cy="332.15" r="3.3" fill="#000" stroke="#000" stroke-width="0.5"/><circle cx="509.40" cy="315.86" r="3.3" fill="#000" stroke="#000" stroke-width="0.5"/><text x="46.20" y="405.90" text-anchor="end" class="tick">0</text><text x="46.20" y="388.43" text-anchor="end" class="tick">50</text><text x="46.20" y="370.96" text-anchor="end" class="tick">100</text><text x="46.20" y="353.49" text-anchor="end" class="tick">150</text><text x="46.20" y="336.01" text-anchor="end" class="tick">200</text><text x="46.20" y="318.54" text-anchor="end" class="tick">250</text><text x="46.20" y="301.07" text-anchor="end" class="tick">300</text><text x="46.20" y="283.60" text-anchor="end" class="tick">350</text><text x="53.00" y="419.80" text-anchor="middle" class="tick">0</text><text x="88.20" y="419.80" text-anchor="middle" class="tick">0,1</text><text x="123.40" y="419.80" text-anchor="middle" class="tick">0,2</text><text x="158.60" y="419.80" text-anchor="middle" class="tick">0,3</text><text x="193.80" y="419.80" text-anchor="middle" class="tick">0,4</text><text x="229.00" y="419.80" text-anchor="middle" class="tick">0,5</text><text x="325.80" y="405.90" text-anchor="end" class="tick">0</text><text x="325.80" y="381.50" text-anchor="end" class="tick">40</text><text x="325.80" y="357.10" text-anchor="end" class="tick">80</text><text x="325.80" y="332.70" text-anchor="end" class="tick">120</text><text x="325.80" y="308.30" text-anchor="end" class="tick">160</text><text x="325.80" y="283.90" text-anchor="end" class="tick">200</text><text x="332.40" y="419.80" text-anchor="middle" class="tick">0</text><text x="367.80" y="419.80" text-anchor="middle" class="tick">0,1</text><text x="403.20" y="419.80" text-anchor="middle" class="tick">0,2</text><text x="438.60" y="419.80" text-anchor="middle" class="tick">0,3</text><text x="474.00" y="419.80" text-anchor="middle" class="tick">0,4</text><text x="509.40" y="419.80" text-anchor="middle" class="tick">0,5</text><line x1="130" y1="341.70" x2="151.7" y2="341.70" stroke="#111" stroke-width="0.95"/><circle cx="140.50" cy="341.70" r="2.6" fill="#000" stroke="#000" stroke-width="0.5"/><text x="153.6" y="344.80" class="leg">Patient</text><line x1="130" y1="359.45" x2="151.7" y2="359.45" stroke="#111" stroke-width="0.95"/><path d="M140.50 356.15 L143.70 362.09 L137.30 362.09 Z" fill="#fff" stroke="#000" stroke-width="0.9" stroke-linejoin="miter"/><text x="153.6" y="362.55" class="leg">Mother</text><line x1="130" y1="377.20" x2="151.7" y2="377.20" stroke="#111" stroke-width="0.95"/><rect x="137.90" y="374.60" width="5.2" height="5.2" fill="#fff" stroke="#000" stroke-width="0.9"/><text x="153.6" y="380.30" class="leg">Father</text><line x1="130" y1="394.95" x2="151.7" y2="394.95" stroke="#111" stroke-width="0.95"/><path d="M140.50 391.85 L143.60 394.95 L140.50 398.05 L137.40 394.95 Z" fill="#fff" stroke="#000" stroke-width="0.9"/><text x="153.6" y="398.05" class="leg">Control</text><line x1="414.6" y1="377.50" x2="436" y2="377.50" stroke="#111" stroke-width="0.95"/><circle cx="425.20" cy="377.50" r="2.6" fill="#000" stroke="#000" stroke-width="0.5"/><text x="438.3" y="380.50" class="leg">Patient</text><line x1="414.6" y1="392.30" x2="436" y2="392.30" stroke="#111" stroke-width="0.95"/><path d="M425.20 389.00 L428.40 394.94 L422.00 394.94 Z" fill="#fff" stroke="#000" stroke-width="0.9" stroke-linejoin="miter"/><text x="438.3" y="395.30" class="leg">Control</text>
<text transform="translate(15.6,338.5) rotate(-90)" text-anchor="middle" class="lab2">MFI CD63</text>
<text transform="translate(296.6,340) rotate(-90)" text-anchor="middle" class="lab2">MFI CD62</text>
<text x="148.9" y="448.7" text-anchor="middle" class="lab2">Thrombin U/mL</text>
<text x="428.2" y="449.9" text-anchor="middle" class="lab2">Thrombin U/mL</text>
</svg>
</body></html>
